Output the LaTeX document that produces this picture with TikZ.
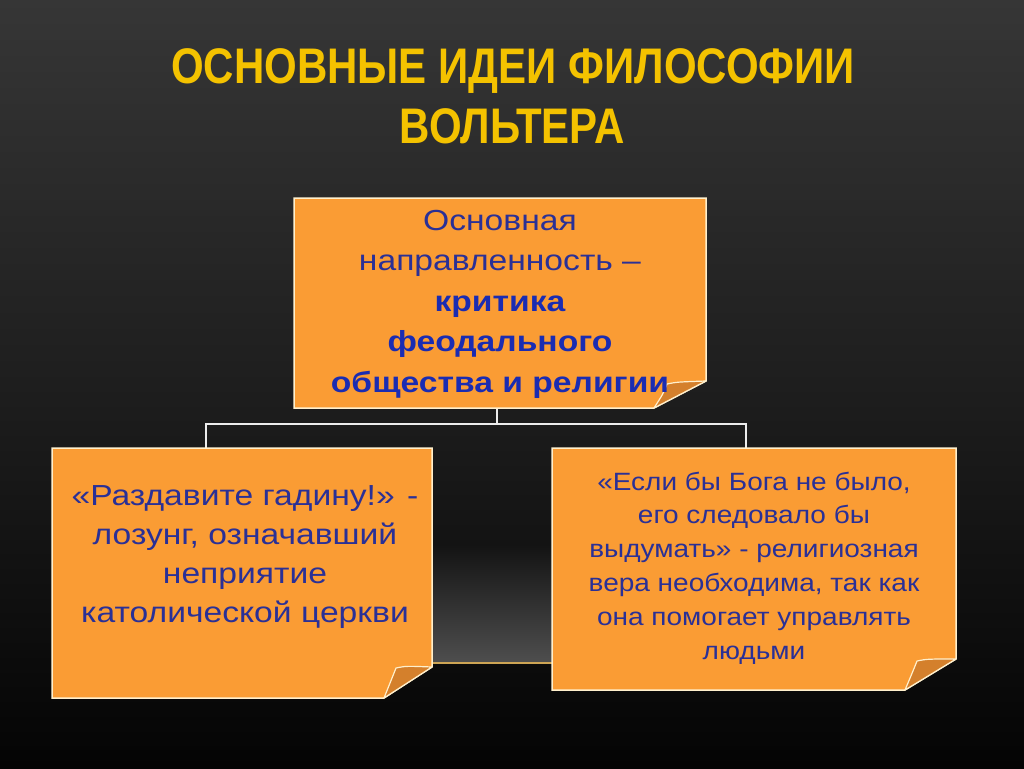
\documentclass[tikz,border=0pt]{standalone}
\usepackage{fontspec}
\setmainfont{Liberation Sans}
\newfontfamily\titlefont[FakeStretch=0.84]{Liberation Sans}
\newfontfamily\bodyfont[FakeStretch=1.16]{Liberation Sans}
\newfontfamily\bodyfontb[FakeStretch=1.12]{Liberation Sans}
\definecolor{bgtop}{RGB}{54,54,54}
\definecolor{bgmid}{RGB}{30,30,30}
\definecolor{bgbot}{RGB}{4,4,4}
\definecolor{glowtop}{RGB}{19,19,19}
\definecolor{glowbot}{RGB}{78,78,78}
\definecolor{glowline}{RGB}{205,165,85}
\definecolor{titleyel}{RGB}{244,194,0}
\definecolor{boxor}{RGB}{250,156,52}
\definecolor{flapor}{RGB}{212,128,44}
\definecolor{edgecream}{RGB}{255,240,205}
\definecolor{txtblue}{RGB}{42,48,150}
\definecolor{boldblue}{RGB}{26,44,178}
\tikzset{
  boxarea/.style={inner sep=0pt, outer sep=0pt},
  boxfill/.style={fill=boxor, draw=edgecream, line width=1.5pt, line join=miter},
  flapfill/.style={fill=flapor, draw=edgecream, line width=1.2pt, line join=round},
  boxtext/.style={text=txtblue, align=center, inner sep=0pt},
  titletext/.style={text=titleyel, inner sep=0pt, anchor=base, font=\titlefont\bfseries\fontsize{50}{60}\selectfont},
  link/.style={draw=white!85!gray, line width=1.2pt},
}
\newcommand\foldbox[6]{%
  \path[boxfill] (#1.north west) -- (#1.north east) -- ([yshift=#3]#1.south east)
     -- ([xshift=-#2]#1.south east) -- (#1.south west) -- cycle;
  \path[flapfill] ([xshift=-#2]#1.south east)
     .. controls ([xshift=-#4-4pt,yshift=#5-10pt]#1.south east) .. ([xshift=-#4,yshift=#5]#1.south east)
     .. controls ([xshift=-#4+10pt,yshift=#5+#6]#1.south east) .. ([yshift=#3]#1.south east)
     -- cycle;
}
\begin{document}
\begin{tikzpicture}[x=1pt,y=-1pt]
  \useasboundingbox (0,0) rectangle (1024,768);
  \shade[top color=bgtop, bottom color=bgbot, middle color=bgmid] (0,0) rectangle (1024,768);
  % faint glow between the lower boxes
  \shade[top color=glowtop, bottom color=glowbot] (432,545) rectangle (552,662);
  \draw[line width=2pt, color=glowline] (432,663) -- (552,663);

  % title
  \node[titletext] (title1) at (513,83) {ОСНОВНЫЕ ИДЕИ ФИЛОСОФИИ};
  \node[titletext] (title2) at (512,143) {ВОЛЬТЕРА};

  % box areas
  \node[boxarea, minimum width=412pt, minimum height=210pt] (top) at (500,303) {};
  \node[boxarea, minimum width=380pt, minimum height=250pt] (left) at (242,573) {};
  \node[boxarea, minimum width=404pt, minimum height=242pt] (right) at (754,569) {};

  % connectors
  \coordinate (bar) at (497,424);
  \draw[link] ([xshift=-3pt]top.south) -- (bar);
  \draw[link] ([xshift=-36pt]left.north) |- (bar) -| ([xshift=-8pt]right.north);

  % shapes
  \foldbox{top}{52pt}{27pt}{39pt}{24pt}{2pt}
  \foldbox{left}{48pt}{31pt}{36pt}{30pt}{2pt}
  \foldbox{right}{51pt}{31pt}{39pt}{29pt}{2pt}

  % texts
  \node[boxtext, font=\bodyfont\fontsize{29}{40.5}\selectfont] (toptext) at (500,304)
    {Основная\\направленность –\\\textcolor{boldblue}{\bfseries критика}\\\textcolor{boldblue}{\bfseries феодального}\\\textcolor{boldblue}{\bfseries общества и религии}};
  \node[boxtext, font=\bodyfont\fontsize{29}{39.3}\selectfont] (lefttext) at (245,557)
    {«Раздавите гадину!» -\\лозунг, означавший\\неприятие\\католической церкви};
  \node[boxtext, font=\bodyfontb\fontsize{25}{33.8}\selectfont] (righttext) at (754,568)
    {«Если бы Бога не было,\\его следовало бы\\выдумать» - религиозная\\вера необходима, так как\\она помогает управлять\\людьми};
\end{tikzpicture}
\end{document}
